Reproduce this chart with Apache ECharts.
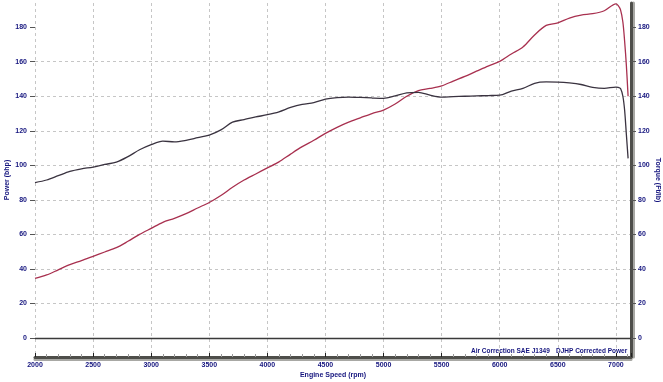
<!DOCTYPE html>
<html>
<head>
<meta charset="utf-8">
<script src="https://cdn.jsdelivr.net/npm/echarts@6/dist/echarts.min.js"></script>
<style>
  html, body { margin: 0; padding: 0; background: #fff; }
  #chart { width: 663px; height: 382px; }
</style>
</head>
<body>
<div id="chart"></div>
<script>
// engine speed (rpm) and dyno readings
const rpm = [2000, 2100, 2200, 2300, 2400, 2500, 2600, 2700, 2800, 2900,
  3000, 3100, 3200, 3300, 3400, 3500, 3600, 3700, 3800, 3900,
  4000, 4100, 4200, 4300, 4400, 4500, 4600, 4700, 4800, 4900,
  5000, 5100, 5200, 5300, 5400, 5500, 5600, 5700, 5800, 5900,
  6000, 6100, 6200, 6300, 6400, 6500, 6600, 6700, 6800, 6900,
  7000, 7020, 7040, 7060, 7075, 7090, 7105];
const powerBhp = [34.5, 36.5, 39.5, 42.5, 44.8, 47.3, 49.8, 52.3, 56, 60,
  63.5, 67, 69.3, 72, 75.3, 78.5, 82.5, 87.3, 91.5, 95,
  98.5, 102, 106.5, 110.8, 114.5, 118.5, 122, 125, 127.5, 130,
  132, 135.5, 140, 143.3, 144.5, 146, 148.8, 151.5, 154.5, 157.5,
  160.2, 164.5, 168.5, 175.5, 181, 182.5, 185.3, 187, 187.8, 189.5,
  193.5, 192.5, 190, 183, 172, 158, 140];
const torqueFtLb = [90, 91.5, 94, 96.5, 98, 99, 100.5, 101.8, 105, 109,
  112, 114, 113.6, 114.5, 116, 117.5, 120.5, 125, 126.5, 128,
  129.3, 131, 133.5, 135.3, 136.3, 138.3, 139.2, 139.5, 139.3, 139,
  138.8, 140.2, 142, 142.3, 140.6, 139.5, 139.8, 140, 140.2, 140.4,
  140.6, 143, 144.5, 147.5, 148.3, 148.2, 147.7, 146.8, 145.2, 144.6,
  145.3, 145.2, 144.5, 140, 132, 118, 104];
const yTicks = [0, 20, 40, 60, 80, 100, 120, 140, 160, 180];

const navy = '#14147e';
const gridGrey = '#c6c6c6';
const labelFont = { color: navy, fontWeight: 'bold', fontSize: 7, fontFamily: 'Liberation Sans' };

const chart = echarts.init(document.getElementById('chart'));

const option = {
  animation: false,
  backgroundColor: '#fff',
  grid: { left: 35, right: 32, top: 3, bottom: 25, outerBoundsMode: 'none', containLabel: false },
  xAxis: {
    type: 'value',
    min: 2000,
    max: 7130,
    interval: 500,
    name: 'Engine Speed (rpm)',
    nameLocation: 'middle',
    nameGap: 15,
    nameMoveOverlap: false,
    nameTextStyle: labelFont,
    axisLine: {
      onZero: false,
      lineStyle: { color: '#4e4e4a', width: 3, shadowColor: '#a8a8a4', shadowOffsetY: 2 }
    },
    axisTick: { inside: true, length: 4, lineStyle: { color: '#222' } },
    minorTick: { show: true, splitNumber: 5, length: 3, lineStyle: { color: '#999' } },
    axisLabel: Object.assign({ margin: 5, showMaxLabel: false, formatter: v => String(v) }, labelFont),
    splitLine: { showMaxLine: false, lineStyle: { type: [3, 3], color: gridGrey } }
  },
  yAxis: [
    {
      type: 'value',
      min: -11,
      max: 194,
      position: 'left',
      name: 'Power (bhp)',
      nameLocation: 'middle',
      nameGap: 24,
      nameMoveOverlap: false,
      nameTextStyle: labelFont,
      axisLine: { show: false, onZero: false },
      axisTick: { show: true, customValues: yTicks, length: 5, lineStyle: { color: '#555' } },
      axisLabel: Object.assign({ customValues: yTicks, margin: 8 }, labelFont),
      splitLine: { showMinLine: false, showMaxLine: false, lineStyle: { type: [3, 3], color: gridGrey } }
    },
    {
      type: 'value',
      min: -11,
      max: 194,
      position: 'right',
      name: 'Torque (Ft/lb)',
      nameLocation: 'middle',
      nameRotate: -90,
      nameGap: 23,
      nameMoveOverlap: false,
      nameTextStyle: labelFont,
      axisLine: {
        show: true,
        onZero: false,
        lineStyle: { color: '#4e4e4a', width: 3, shadowColor: '#a8a8a4', shadowOffsetX: 2 }
      },
      axisTick: { show: true, customValues: yTicks, length: 5, lineStyle: { color: '#555' } },
      axisLabel: Object.assign({ customValues: yTicks, margin: 7 }, labelFont),
      splitLine: { show: false }
    }
  ],
  series: [
    {
      name: 'Power',
      type: 'line',
      yAxisIndex: 0,
      showSymbol: false,
      smooth: 0.3,
      lineStyle: { color: '#a8304f', width: 1.3 },
      data: rpm.map((r, i) => [r, powerBhp[i]]),
      markLine: {
        silent: true,
        symbol: ['none', 'none'],
        label: { show: false },
        lineStyle: { type: 'solid', color: '#3a3a3a', width: 1.4 },
        data: [{ yAxis: 0 }]
      }
    },
    {
      name: 'Torque',
      type: 'line',
      yAxisIndex: 1,
      showSymbol: false,
      smooth: 0.3,
      lineStyle: { color: '#3a3340', width: 1.3 },
      data: rpm.map((r, i) => [r, torqueFtLb[i]])
    }
  ],
  graphic: [
    {
      type: 'text',
      left: 471,
      top: 348,
      style: { text: 'Air Correction SAE J1349', fill: navy, font: 'bold 6.5px "Liberation Sans"' }
    },
    {
      type: 'text',
      left: 556,
      top: 348,
      style: { text: 'DJHP Corrected Power', fill: navy, font: 'bold 6.5px "Liberation Sans"' }
    }
  ]
};

chart.setOption(option);
</script>
</body>
</html>
